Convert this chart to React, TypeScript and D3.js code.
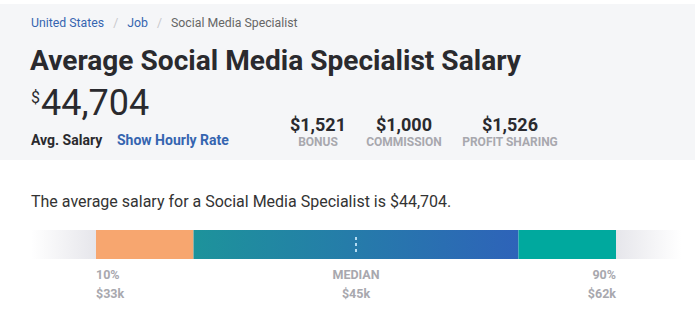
import * as d3 from 'd3'

const width = 695
const height = 323

// breadcrumb + headline
const crumbs = ['United States', 'Job', 'Social Media Specialist']
const jobTitle = 'Social Media Specialist'
const avgSalary = 44704

// extra pay
const extraLabels = ['BONUS', 'COMMISSION', 'PROFIT SHARING']
const extraValues = [1521, 1000, 1526]

// percentile bar
const pctLabels = ['10%', 'MEDIAN', '90%']
const pctPoints = [10, 50, 90]
const pctValues = [33, 45, 62]
const segStarts = [10, 25, 75]
const segEnds = [25, 75, 90]

const font = 'Roboto, "Noto Sans", sans-serif'
const blue = '#3565b0'

export default function App() {
  // percentile -> x along the bar
  const x = d3.scaleLinear([10, 90], [96, 616])
  const barTop = 230
  const barH = 29
  const money = d3.format('$,')
  const extraCenters = [318, 404, 510]

  return (
    <svg width={width} height={height} style={{ position: 'absolute', left: 0, top: 0, fontFamily: font }}>
      <defs>
        <linearGradient id="mid" x1="0" x2="1">
          <stop offset="0" stopColor="#1d939b" />
          <stop offset="1" stopColor="#2e63b9" />
        </linearGradient>
        <linearGradient id="fadeL" x1="0" x2="1">
          <stop offset="0" stopColor="#ffffff" />
          <stop offset="1" stopColor="#e6e6eb" />
        </linearGradient>
        <linearGradient id="fadeR" x1="0" x2="1">
          <stop offset="0" stopColor="#e6e6eb" />
          <stop offset="1" stopColor="#ffffff" />
        </linearGradient>
      </defs>

      <rect x={0} y={0} width={width} height={height} fill="#fff" />
      <rect x={0} y={4} width={width} height={156} fill="#f5f6f8" />

      {/* breadcrumb */}
      <text x={31} y={27} fontSize={12.3}>
        <tspan fill={blue}>{crumbs[0]}</tspan>
        <tspan fill="#c8c8cc" dx={9}>/</tspan>
        <tspan fill={blue} dx={9}>{crumbs[1]}</tspan>
        <tspan fill="#c8c8cc" dx={9}>/</tspan>
        <tspan fill="#666" dx={9}>{crumbs[2]}</tspan>
      </text>

      <text x={30} y={70} fontSize={28.1} fontWeight={700} fill="#2a2a2e">
        {`Average ${jobTitle} Salary`}
      </text>

      <text x={31} y={115} fill="#2a2a2e">
        <tspan fontSize={16} dy={-12}>$</tspan>
        <tspan fontSize={36} dy={12} dx={1}>{d3.format(',')(avgSalary)}</tspan>
      </text>

      <text x={31} y={145} fontSize={14} fontWeight={700} fill="#2a2a2e">Avg. Salary</text>
      <text x={117} y={145} fontSize={14} fontWeight={700} fill={blue}>Show Hourly Rate</text>

      {extraLabels.map((l, i) => (
        <g key={l}>
          <text x={extraCenters[i]} y={131} textAnchor="middle" fontSize={18} fontWeight={700} fill="#2a2a2e">
            {money(extraValues[i])}
          </text>
          <text x={extraCenters[i]} y={146} textAnchor="middle" fontSize={12} fontWeight={700} fill="#a8a8ae">
            {l}
          </text>
        </g>
      ))}

      <text x={31} y={207} fontSize={16} fill="#333">
        {`The average salary for a ${jobTitle} is ${money(avgSalary)}.`}
      </text>

      {/* bar */}
      <rect x={x(0)} y={barTop} width={x(10) - x(0)} height={barH} fill="url(#fadeL)" />
      <rect x={x(90)} y={barTop} width={x(100) - x(90)} height={barH} fill="url(#fadeR)" />
      {segStarts.map((s, i) => (
        <rect
          key={s}
          x={x(s)}
          y={barTop}
          width={x(segEnds[i]) - x(s)}
          height={barH}
          fill={i === 0 ? '#f7a66f' : i === 1 ? 'url(#mid)' : '#00a99e'}
        />
      ))}
      <line
        x1={x(50)}
        x2={x(50)}
        y1={barTop + 7}
        y2={barTop + barH - 5}
        stroke="#b4dcf2"
        strokeWidth={2}
        strokeDasharray="3 3"
      />

      {pctPoints.map((p, i) => {
        const anchor = i === 0 ? 'start' : i === 2 ? 'end' : 'middle'
        return (
          <g key={p} fontSize={12.5} fontWeight={700} fill="#a8a8ae" textAnchor={anchor}>
            <text x={x(p)} y={279}>{pctLabels[i]}</text>
            <text x={x(p)} y={298}>{`$${pctValues[i]}k`}</text>
          </g>
        )
      })}
    </svg>
  )
}
